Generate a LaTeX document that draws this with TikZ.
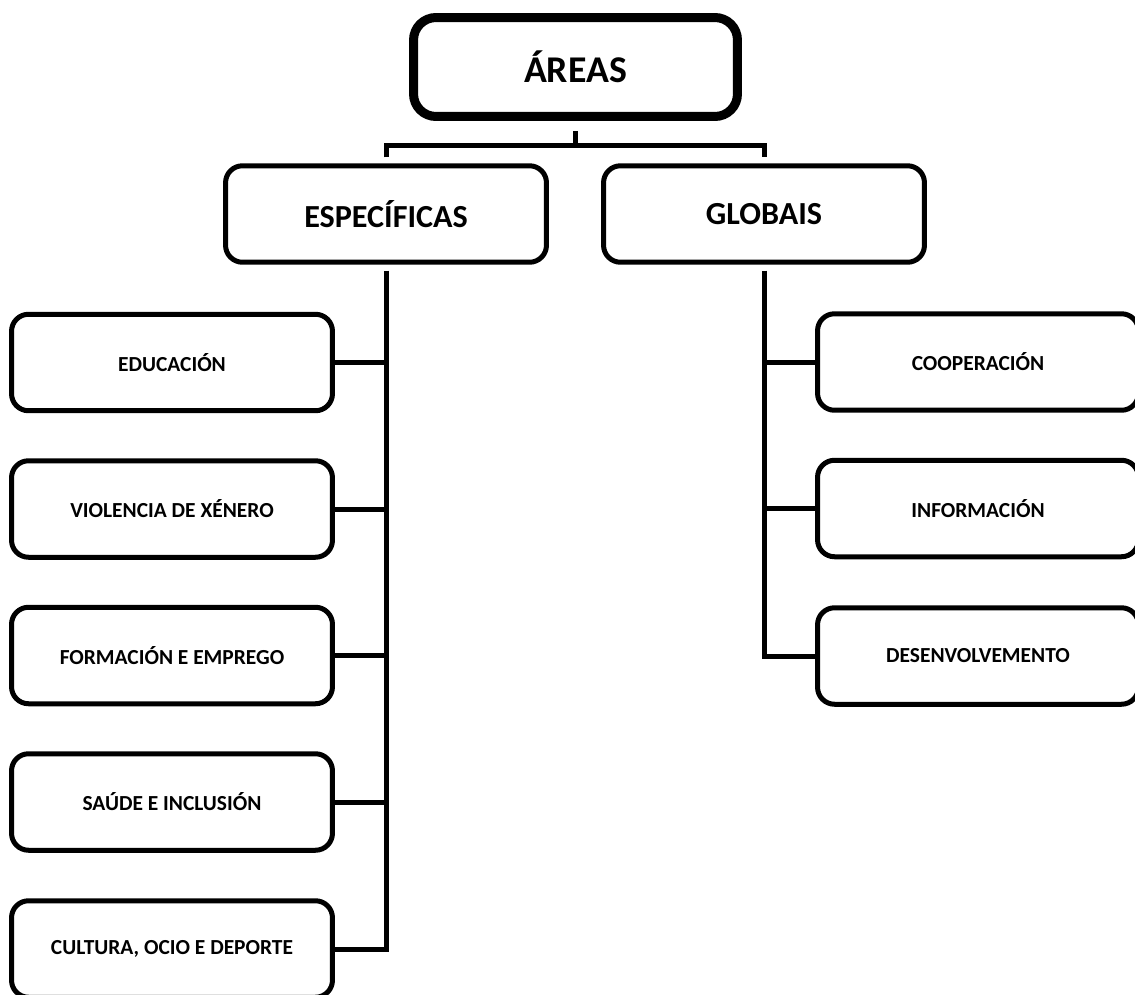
\documentclass[tikz,border=0pt]{standalone}
\usepackage{fontspec}
\setmainfont{Carlito}
\usepackage{tikz}

\tikzset{
	itembox/.style={draw, line width=0.1cm, rounded corners=0.34cm, fill=white, minimum width=6.42cm, minimum height=1.93cm, inner sep=0pt, font=\bfseries\fontsize{12.2}{14}\selectfont},
	groupbox/.style={itembox, font=\bfseries\fontsize{18.3}{21}\selectfont},
	link/.style={draw, line width=0.1cm}
}

\begin{document}
\begin{tikzpicture}[x=0.02cm, y=-0.02cm]
	\useasboundingbox (0,0) rectangle (1135,994);

	\node[groupbox, line width=0.18cm, rounded corners=0.45cm, minimum width=6.48cm, minimum height=1.98cm, font=\bfseries\fontsize{21.5}{24}\selectfont] (areas) at (575.5,67) {ÁREAS};
	\node[groupbox] (especificas) at (386,214) {ESPECÍFICAS};
	\node[groupbox] (globais) at (764,214) {GLOBAIS};

	% especificas
	\node[itembox] (educacion) at (172,362.5) {EDUCACIÓN};
	\node[itembox] (violencia) at (172,509) {VIOLENCIA DE XÉNERO};
	\node[itembox] (formacion) at (172,655.5) {FORMACIÓN E EMPREGO};
	\node[itembox] (saude) at (172,802) {SAÚDE E INCLUSIÓN};
	\node[itembox] (cultura) at (172,949) {CULTURA, OCIO E DEPORTE};

	% globais
	\node[itembox] (cooperacion) at (978,362) {COOPERACIÓN};
	\node[itembox] (informacion) at (978,508.5) {INFORMACIÓN};
	\node[itembox] (desenvolvemento) at (978,656) {DESENVOLVEMENTO};

	\path (areas.south) ++(0,25) coordinate (split);
	\draw[link] ([yshift=-0.2cm]areas.south) -- (split);
	\draw[link] ([yshift=0.12cm]especificas.north) |- (split) -| ([yshift=0.12cm]globais.north);

	\draw[link] ([yshift=-0.12cm]especificas.south) |- (cultura.east);
	\foreach \item in {educacion, violencia, formacion, saude}
		\draw[link] (\item.east) -- (\item.east -| especificas.south);

	\draw[link] ([yshift=-0.12cm]globais.south) |- (desenvolvemento.west);
	\foreach \item in {cooperacion, informacion}
		\draw[link] (\item.west) -- (\item.west -| globais.south);
\end{tikzpicture}
\end{document}
